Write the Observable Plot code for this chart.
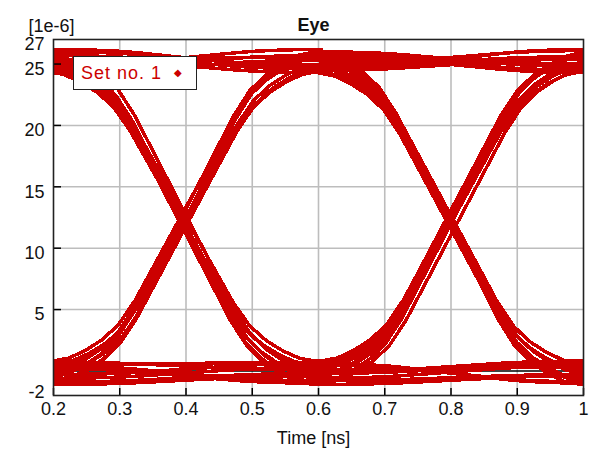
<!DOCTYPE html>
<html>
<head>
<meta charset="utf-8">
<script src="https://cdn.jsdelivr.net/npm/d3@7"></script>
<script src="https://cdn.jsdelivr.net/npm/@observablehq/plot@0.6"></script>
<style>
  html, body { margin: 0; padding: 0; background: #fff; }
  #wrap { position: relative; width: 590px; height: 455px; }
  #legend {
    position: absolute; left: 73px; top: 56px; width: 122px; height: 32px;
    border: 1.5px solid #222; background: #fff; box-sizing: content-box;
    font: 18px "Liberation Sans", Arial, sans-serif; letter-spacing: 1px;
    color: #cc0000; line-height: 32px;
  }
  #legend .name { position: absolute; left: 7px; top: 0; }
  #legend .sym { position: absolute; left: 100px; top: 0; font-size: 10px; }
</style>
</head>
<body>
<div id="wrap">
  <div id="chart"></div>
  <div id="legend"><span class="name"></span><span class="sym">&#9670;</span></div>
</div>
<script>
// ---- labels ----
const title = "Eye";
const unitLabel = "[1e-6]";
const xLabel = "Time [ns]";
const seriesName = "Set no. 1";

// ---- axes ----
const xDomain = [0.2, 1.0];
const yDomain = [-2, 27];
const xTicks = [0.2, 0.3, 0.4, 0.5, 0.6, 0.7, 0.8, 0.9, 1.0];
const xTickLabels = ["0.2", "0.3", "0.4", "0.5", "0.6", "0.7", "0.8", "0.9", "1"];
const yTicks = [5, 10, 15, 20, 25];
const yTopLabel = [27];
const yBottomLabel = [-2];

// ---- eye structure: bit boundaries (crossings) in ns ----
const crossings = [0.4, 0.8];

// one transition, sampled around its crossing: time offset (ns) and fraction of the swing
const edgeOffset = [-0.2, -0.175, -0.15, -0.125, -0.1, -0.075, -0.05, -0.025, 0,
                    0.025, 0.05, 0.075, 0.1, 0.125, 0.15, 0.175, 0.2];
const edgeFraction = [0, 0.01, 0.035, 0.07, 0.12, 0.2, 0.3, 0.4, 0.5,
                      0.6, 0.7, 0.8, 0.88, 0.93, 0.965, 0.99, 1];

// level of each captured trace at the three bit centres (0.2, 0.6, 1.0 ns), in 1e-6
const traceLevels = [
  [-0.9, -0.2, 0.5], [0.4, -0.8, -0.3], [-0.3, 0.6, -1.0], [0.7, 0.1, 0.3],
  [-0.6, 0.3, 25.9], [0.2, -1.0, 24.6], [-1.1, -0.4, 25.2], [0.5, 0.7, 24.9],
  [-0.2, 24.7, -0.7], [0.8, 25.5, 0.2], [-0.8, 24.4, 0.6], [0.0, 25.9, -1.1],
  [0.3, 25.0, 26.1], [-1.0, 25.8, 24.5], [0.6, 24.5, 25.4], [-0.5, 26.0, 24.8],
  [25.6, -0.6, 0.4], [24.4, 0.5, -0.9], [26.1, -0.1, 0.8], [25.0, -1.1, -0.4],
  [24.8, 0.8, 25.7], [25.9, -0.3, 24.4], [24.6, 0.2, 26.0], [25.3, -0.9, 25.1],
  [26.0, 24.9, -0.2], [24.5, 25.7, 0.6], [25.4, 24.3, -0.8], [24.9, 26.2, 0.1],
  [25.2, 25.6, 24.3], [26.2, 24.8, 25.6], [24.3, 25.3, 25.0], [25.7, 24.6, 26.2]
];

// timing of each trace's edge relative to the two nominal crossings, in ns
const traceShift = [
  [0.002, -0.002], [-0.004, 0.001], [0.001, 0.004], [-0.001, -0.003],
  [0.003, 0.000], [-0.003, 0.007], [0.001, 0.003], [-0.004, 0.005],
  [0.004, -0.001], [-0.002, -0.008], [0.000, -0.003], [-0.003, -0.005],
  [0.002, 0.003], [-0.001, -0.004], [0.004, 0.001], [-0.004, 0.004],
  [-0.006, -0.003], [-0.010, 0.003], [-0.003, -0.001], [-0.008, 0.004],
  [-0.004, 0.003], [-0.011, 0.000], [-0.006, 0.006], [-0.009, 0.001],
  [0.003, 0.000], [-0.003, -0.005], [0.000, -0.002], [0.004, -0.008],
  [-0.001, 0.003], [0.002, -0.003], [-0.004, 0.001], [0.001, 0.004]
];

// reference level drawn under the traces
const baseline = [0];

// ---- assemble trace points ----
const points = [];
traceLevels.forEach((L, i) => {
  points.push({trace: i, t: xDomain[0] - 0.02, v: L[0]});
  crossings.forEach((c0, k) => {
    const c = c0 + traceShift[i][k];
    edgeOffset.forEach((o, j) => {
      points.push({trace: i, t: c + o, v: L[k] + (L[k + 1] - L[k]) * edgeFraction[j]});
    });
  });
  points.push({trace: i, t: xDomain[1] + 0.02, v: L[2]});
});

const W = 590, H = 455;
const mL = 53, mR = 7, mT = 39, mB = 60;
const frameW = W - mL - mR, frameH = H - mT - mB;
const red = "#cc0000";
const ink = "#111";
const textStyle = {fontFamily: '"Liberation Sans", Arial, sans-serif', fontSize: "18px", letterSpacing: "1px", fill: ink};

const chart = Plot.plot({
  width: W, height: H,
  marginLeft: mL, marginRight: mR, marginTop: mT, marginBottom: mB,
  x: {domain: xDomain, axis: null},
  y: {domain: yDomain, axis: null},
  style: {fontFamily: '"Liberation Sans", Arial, sans-serif', overflow: "visible", background: "#fff"},
  marks: [
    // grid
    Plot.ruleX(xTicks.slice(1, -1), {x: d => d, stroke: "#bdbdbd", strokeWidth: 1.6}),
    Plot.ruleY(yTicks, {y: d => d, stroke: "#bdbdbd", strokeWidth: 1.6}),
    Plot.ruleY(baseline, {y: d => d, stroke: "#000", strokeWidth: 1.5}),
    // traces
    Plot.line(points, {
      x: "t", y: "v", z: "trace", stroke: red, strokeWidth: 3.5,
      shapeRendering: "crispEdges", clip: true, curve: "linear"
    }),
    // inward ticks
    Plot.ruleX(xTicks, {x: d => d, stroke: "#000", strokeWidth: 1.5, insetTop: frameH - 7}),
    Plot.ruleY(yTicks, {y: d => d, stroke: "#000", strokeWidth: 1.5, insetRight: frameW - 8}),
    Plot.frame({stroke: "#222", strokeWidth: 1.6}),
    // tick labels
    Plot.text(xTicks, {x: d => d, text: (d, i) => xTickLabels[i], frameAnchor: "bottom", dy: 19, ...textStyle}),
    Plot.text(yTicks.concat(yTopLabel), {y: d => d, text: d => String(d), frameAnchor: "left", textAnchor: "end", dx: -9, dy: 5, ...textStyle}),
    Plot.text(yBottomLabel, {y: d => d, text: d => String(d), frameAnchor: "left", textAnchor: "end", dx: -9, dy: -3, ...textStyle}),
    // titles
    Plot.text([title], {text: d => d, frameAnchor: "top", dx: -5, dy: -21, fontWeight: "bold", ...textStyle}),
    Plot.text([unitLabel], {text: d => d, frameAnchor: "top-left", textAnchor: "start", dx: -25, dy: -20, ...textStyle}),
    Plot.text([xLabel], {text: d => d, frameAnchor: "bottom", dx: -5, dy: 48, ...textStyle})
  ]
});

document.getElementById("chart").appendChild(chart);
document.querySelector("#legend .name").textContent = seriesName;
</script>
</body>
</html>
